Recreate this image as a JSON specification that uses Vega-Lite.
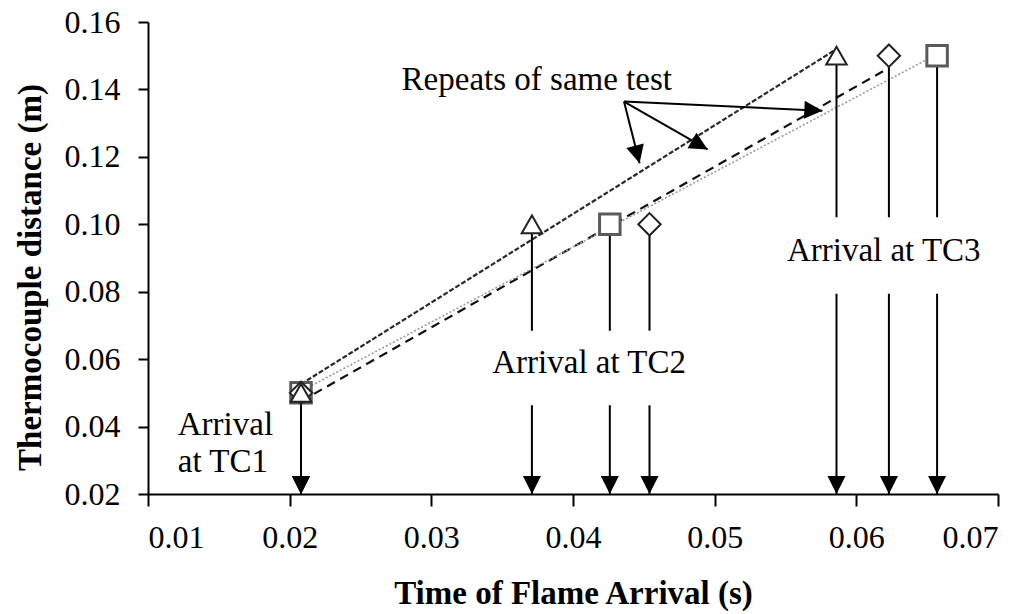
{
  "$schema": "https://vega.github.io/schema/vega-lite/v6.json",
  "width": 850,
  "height": 472,
  "autosize": {"type": "none"},
  "padding": {"left": 148, "top": 22, "right": 33, "bottom": 120},
  "background": "white",
  "config": {
    "view": {"stroke": null},
    "font": "Liberation Serif",
    "axis": {
      "grid": false,
      "domainColor": "#000",
      "domainWidth": 2,
      "tickColor": "#000",
      "tickWidth": 2,
      "labelFont": "Liberation Serif",
      "labelFontSize": 32,
      "labelColor": "#000",
      "titleFont": "Liberation Serif",
      "titleFontSize": 33,
      "titleFontWeight": "bold",
      "titleColor": "#000"
    }
  },
  "datasets": {
    "arrivals": [
      {"test": "Repeat 1", "tc": "TC1", "time": 0.0208, "dist": 0.05},
      {"test": "Repeat 1", "tc": "TC2", "time": 0.0371, "dist": 0.10},
      {"test": "Repeat 1", "tc": "TC3", "time": 0.0586, "dist": 0.15},
      {"test": "Repeat 2", "tc": "TC1", "time": 0.0208, "dist": 0.05},
      {"test": "Repeat 2", "tc": "TC2", "time": 0.0454, "dist": 0.10},
      {"test": "Repeat 2", "tc": "TC3", "time": 0.0623, "dist": 0.15},
      {"test": "Repeat 3", "tc": "TC1", "time": 0.0208, "dist": 0.05},
      {"test": "Repeat 3", "tc": "TC2", "time": 0.0426, "dist": 0.10},
      {"test": "Repeat 3", "tc": "TC3", "time": 0.0657, "dist": 0.15}
    ],
    "labelBoxes": [
      {"box": "TC2", "time": 0.0341, "time2": 0.0483, "dist": 0.0684, "dist2": 0.0463},
      {"box": "TC3", "time": 0.0550, "time2": 0.0684, "dist": 0.1021, "dist2": 0.0794}
    ],
    "notes": [
      {"note": "Repeats of same test", "time": 0.0279, "dist": 0.1399},
      {"note": "Arrival at TC2", "time": 0.0343, "dist": 0.0560},
      {"note": "Arrival at TC3", "time": 0.0551, "dist": 0.0891},
      {"note": "Arrival", "time": 0.0121, "dist": 0.0374},
      {"note": "at TC1", "time": 0.0121, "dist": 0.0265}
    ],
    "pointers": [
      {"id": "p1", "time": 0.0436, "dist": 0.1364, "time2": 0.0447, "dist2": 0.1181},
      {"id": "p2", "time": 0.0436, "dist": 0.1364, "time2": 0.0495, "dist2": 0.1222},
      {"id": "p3", "time": 0.0436, "dist": 0.1364, "time2": 0.0576, "dist2": 0.1337}
    ]
  },
  "encoding": {
    "x": {
      "field": "time",
      "type": "quantitative",
      "title": "Time of Flame Arrival (s)",
      "scale": {"domain": [0.01, 0.07], "nice": false, "zero": false},
      "axis": {
        "values": [0.01, 0.02, 0.03, 0.04, 0.05, 0.06, 0.07],
        "format": ".2f",
        "tickSize": 12,
        "labelPadding": 31,
        "labelBaseline": "middle",
        "titleY": 99,
        "titleBaseline": "middle"
      }
    },
    "y": {
      "field": "dist",
      "type": "quantitative",
      "title": "Thermocouple distance (m)",
      "scale": {"domain": [0.02, 0.16], "nice": false, "zero": false},
      "axis": {
        "values": [0.02, 0.04, 0.06, 0.08, 0.10, 0.12, 0.14, 0.16],
        "format": ".2f",
        "tickSize": 10,
        "labelPadding": 18,
        "titleX": -118,
        "titleY": 255,
        "titleBaseline": "middle"
      }
    }
  },
  "layer": [
    {
      "data": {"name": "arrivals"},
      "transform": [{"filter": "datum.test === 'Repeat 1'"}, {"regression": "dist", "on": "time"}],
      "mark": {"type": "line", "color": "#2a2a2a", "strokeWidth": 2.2, "strokeDash": [5, 2]}
    },
    {
      "data": {"name": "arrivals"},
      "transform": [{"filter": "datum.test === 'Repeat 2'"}, {"regression": "dist", "on": "time"}],
      "mark": {"type": "line", "color": "#111", "strokeWidth": 2.2, "strokeDash": [9, 6]}
    },
    {
      "data": {"name": "arrivals"},
      "transform": [{"filter": "datum.test === 'Repeat 3'"}, {"regression": "dist", "on": "time"}],
      "mark": {"type": "line", "color": "#9a9a9a", "strokeWidth": 1.6, "strokeDash": [2, 2]}
    },
    {
      "data": {"name": "arrivals"},
      "mark": {"type": "rule", "color": "#000", "strokeWidth": 2},
      "encoding": {"y2": {"datum": 0.02}}
    },
    {
      "data": {"name": "arrivals"},
      "mark": {"type": "point", "shape": "M0,0L-1,2L1,2Z", "size": 324, "angle": 180, "filled": true, "color": "#000", "opacity": 1},
      "encoding": {"y": {"datum": 0.02}}
    },
    {
      "data": {"name": "labelBoxes"},
      "mark": {"type": "rect", "color": "white"},
      "encoding": {"x2": {"field": "time2"}, "y2": {"field": "dist2"}}
    },
    {
      "data": {"name": "arrivals"},
      "transform": [{"filter": "datum.test === 'Repeat 3'"}],
      "mark": {"type": "point", "shape": "square", "size": 420, "fill": "white", "filled": false, "stroke": "#5a5a5a", "strokeWidth": 3, "opacity": 1}
    },
    {
      "data": {"name": "arrivals"},
      "transform": [{"filter": "datum.test === 'Repeat 2'"}],
      "mark": {"type": "point", "shape": "diamond", "size": 500, "fill": "white", "filled": false, "stroke": "#222", "strokeWidth": 2, "opacity": 1}
    },
    {
      "data": {"name": "arrivals"},
      "transform": [{"filter": "datum.test === 'Repeat 1'"}],
      "mark": {"type": "point", "shape": "triangle-up", "size": 420, "fill": "white", "filled": false, "stroke": "#222", "strokeWidth": 2, "opacity": 1}
    },
    {
      "data": {"name": "notes"},
      "mark": {"type": "text", "align": "left", "baseline": "alphabetic", "font": "Liberation Serif", "fontSize": 33, "color": "#000"},
      "encoding": {"text": {"field": "note"}}
    },
    {
      "data": {"name": "pointers"},
      "mark": {"type": "rule", "color": "#000", "strokeWidth": 2},
      "encoding": {"x2": {"field": "time2"}, "y2": {"field": "dist2"}}
    },
    {
      "data": {"name": "pointers"},
      "transform": [{"filter": "datum.id === 'p1'"}],
      "mark": {"type": "point", "shape": "M0,0L-1,2L1,2Z", "size": 324, "angle": 165.5, "filled": true, "color": "#000", "opacity": 1},
      "encoding": {"x": {"field": "time2", "type": "quantitative"}, "y": {"field": "dist2", "type": "quantitative"}}
    },
    {
      "data": {"name": "pointers"},
      "transform": [{"filter": "datum.id === 'p2'"}],
      "mark": {"type": "point", "shape": "M0,0L-1,2L1,2Z", "size": 324, "angle": 120, "filled": true, "color": "#000", "opacity": 1},
      "encoding": {"x": {"field": "time2", "type": "quantitative"}, "y": {"field": "dist2", "type": "quantitative"}}
    },
    {
      "data": {"name": "pointers"},
      "transform": [{"filter": "datum.id === 'p3'"}],
      "mark": {"type": "point", "shape": "M0,0L-1,2L1,2Z", "size": 324, "angle": 92.6, "filled": true, "color": "#000", "opacity": 1},
      "encoding": {"x": {"field": "time2", "type": "quantitative"}, "y": {"field": "dist2", "type": "quantitative"}}
    }
  ]
}
